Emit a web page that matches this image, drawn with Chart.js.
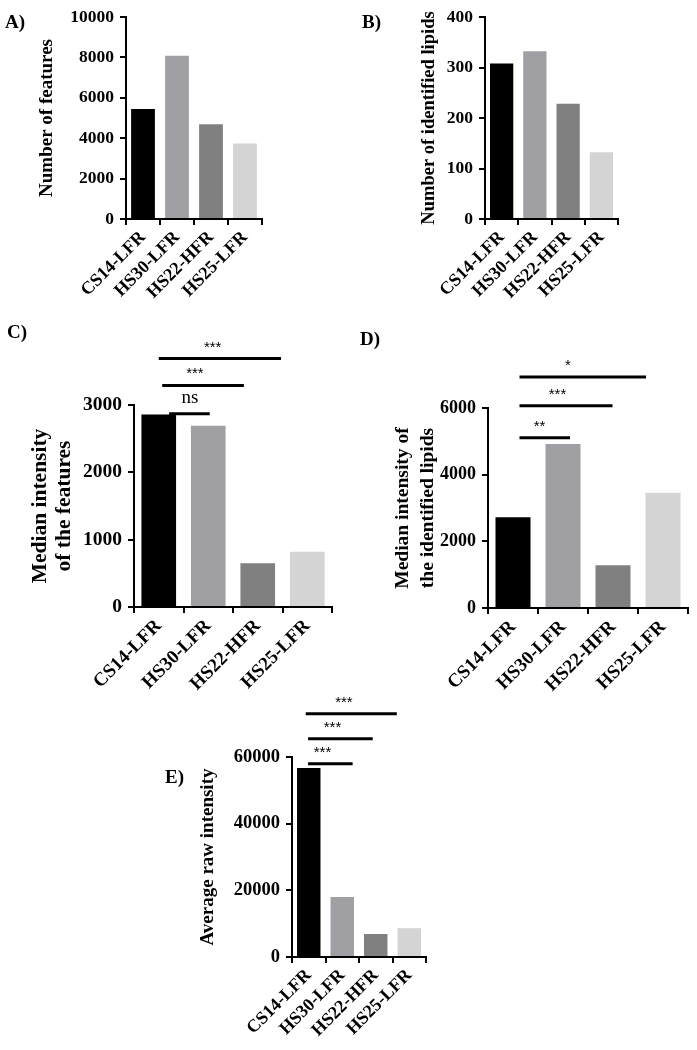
<!DOCTYPE html>
<html>
<head>
<meta charset="utf-8">
<script src="https://cdn.jsdelivr.net/npm/chart.js@4.4.1/dist/chart.umd.min.js"></script>
<style>
    html, body { margin: 0; padding: 0; background: #fff; }
    #page { position: relative; width: 697px; height: 1050px; overflow: hidden; background: #fff; }
    canvas { position: absolute; }
    .tag { position: absolute; font: bold 19px "Liberation Serif", serif; line-height: 1; color: #000; }
</style>
</head>
<body>
<div id="page">
    <canvas id="chart-a" width="345" height="320" style="left:0px;top:0px"></canvas>
    <canvas id="chart-b" width="347" height="320" style="left:350px;top:0px"></canvas>
    <canvas id="chart-c" width="345" height="390" style="left:0px;top:320px"></canvas>
    <canvas id="chart-d" width="352" height="390" style="left:345px;top:320px"></canvas>
    <canvas id="chart-e" width="300" height="360" style="left:150px;top:690px"></canvas>
    <div class="tag" style="left:5px;top:12px">A)</div>
    <div class="tag" style="left:362px;top:12px">B)</div>
    <div class="tag" style="left:7px;top:322px">C)</div>
    <div class="tag" style="left:360px;top:329px">D)</div>
    <div class="tag" style="left:165px;top:767px">E)</div>
</div>
<script>
// categories shared by every panel
const categories = ['CS14-LFR', 'HS30-LFR', 'HS22-HFR', 'HS25-LFR'];
const barColors = ['#000000', '#a0a0a4', '#808080', '#d4d4d4'];

// series values
const featureCounts = [5450, 8080, 4690, 3740];
const lipidCounts = [308, 332, 228, 132];
const medianFeatureIntensity = [2860, 2690, 650, 820];
const medianLipidIntensity = [2720, 4920, 1280, 3460];
const averageRawIntensity = [56700, 18000, 6900, 8650];

// y axis tick ranges [max, step]
const ticksA = [10000, 2000];
const ticksB = [400, 100];
const ticksC = [3000, 1000];
const ticksD = [6000, 2000];
const ticksE = [60000, 20000];

// significance brackets: [from category, to category, level, label, label position]
const sigC = [[0.21, 1.03, 2870, 'ns', 0.63], [0.07, 1.72, 3290, '***', 0.73], [0.0, 2.47, 3690, '***', 1.09]];
const sigD = [[0.13, 1.14, 5110, '**', 0.53], [0.13, 1.99, 6070, '***', 0.89], [0.13, 2.66, 6930, '*', 1.10]];
const sigE = [[-0.02, 1.31, 58000, '***', 0.41], [-0.02, 1.91, 65500, '***', 0.71], [-0.09, 2.63, 72970, '***', 1.05]];

// draws the comparison bars and stars above the plot
const sigPlugin = (items) => ({
    id: 'sigBrackets',
    afterDraw(chart) {
        const { ctx } = chart;
        const x = chart.scales.x, y = chart.scales.y;
        ctx.save();
        ctx.strokeStyle = '#000';
        ctx.fillStyle = '#000';
        ctx.lineWidth = 3;
        ctx.textAlign = 'center';
        ctx.textBaseline = 'alphabetic';
        items.forEach(([from, to, level, label, at]) => {
            const py = y.getPixelForValue(level);
            ctx.beginPath();
            ctx.moveTo(x.getPixelForValue(from), py);
            ctx.lineTo(x.getPixelForValue(to), py);
            ctx.stroke();
            const stars = label.startsWith('*');
            ctx.font = stars ? '15px "Liberation Sans"' : '19px "Liberation Serif"';
            ctx.fillText(label, x.getPixelForValue(at), py - (stars ? 7 : 11));
        });
        ctx.restore();
    }
});

const serif = '"Liberation Serif", "Times New Roman", serif';

// build one panel; area = [left, top, right, bottom] of plot inside canvas
const buildPanel = (id, values, range, opts) => {
    const canvas = document.getElementById(id);
    const W = canvas.width, H = canvas.height;
    const [left, top, right, bottom] = opts.area;
    return new Chart(canvas, {
        type: 'bar',
        data: {
            labels: categories,
            datasets: [{
                data: values,
                backgroundColor: barColors,
                borderWidth: 0,
                barPercentage: 0.7,
                categoryPercentage: 1
            }]
        },
        options: {
            responsive: false,
            animation: false,
            devicePixelRatio: 1,
            layout: { padding: { left: 0, top: top, right: W - right, bottom: 0 } },
            plugins: { legend: { display: false }, tooltip: { enabled: false } },
            scales: {
                x: {
                    offset: true,
                    grid: { display: true, drawOnChartArea: false, drawTicks: true, tickLength: 6, color: '#000', lineWidth: 2 },
                    border: { display: true, color: '#000', width: 2 },
                    ticks: {
                        autoSkip: false, minRotation: 45, maxRotation: 45, padding: 2,
                        color: '#000', font: { family: serif, weight: 'bold', size: opts.xFont }
                    },
                    afterFit: (s) => { s.height = H - bottom; }
                },
                y: {
                    min: 0,
                    max: range[0],
                    grid: { display: true, drawOnChartArea: false, drawTicks: true, tickLength: 6, color: '#000', lineWidth: 2 },
                    border: { display: true, color: '#000', width: 2 },
                    ticks: {
                        stepSize: range[1], padding: 6, color: '#000',
                        font: { family: serif, weight: 'bold', size: opts.yFont },
                        callback: (value) => String(value)
                    },
                    title: {
                        display: true,
                        text: opts.title,
                        color: '#000',
                        padding: { top: opts.titleX - opts.titleSize * opts.titleLh / 2, bottom: 0 },
                        font: { family: serif, weight: 'bold', size: opts.titleSize, lineHeight: opts.titleLh }
                    },
                    afterFit: (s) => { s.width = left; }
                }
            }
        },
        plugins: [sigPlugin(opts.sig || [])]
    });
};

buildPanel('chart-a', featureCounts, ticksA, {
    area: [126, 17, 262, 219], xFont: 18, yFont: 17.5,
    title: 'Number of features', titleX: 47, titleSize: 19, titleLh: 1.2
});
buildPanel('chart-b', lipidCounts, ticksB, {
    area: [135, 17, 268, 219], xFont: 18, yFont: 17.5,
    title: 'Number of identified lipids', titleX: 79, titleSize: 18.5, titleLh: 1.2
});
buildPanel('chart-c', medianFeatureIntensity, ticksC, {
    area: [134, 85, 332, 287], xFont: 19, yFont: 19.5,
    title: ['Median intensity', 'of the features'], titleX: 40, titleSize: 21.5, titleLh: 1.116,
    sig: sigC
});
buildPanel('chart-d', medianLipidIntensity, ticksD, {
    area: [143, 88, 343, 288], xFont: 19, yFont: 18,
    title: ['Median intensity of', 'the identified lipids'], titleX: 58, titleSize: 19.5, titleLh: 1.28,
    sig: sigD
});
buildPanel('chart-e', averageRawIntensity, ticksE, {
    area: [142, 67, 276, 267], xFont: 18, yFont: 18.5,
    title: 'Average raw intensity', titleX: 58, titleSize: 19, titleLh: 1.2,
    sig: sigE
});
</script>
</body>
</html>
